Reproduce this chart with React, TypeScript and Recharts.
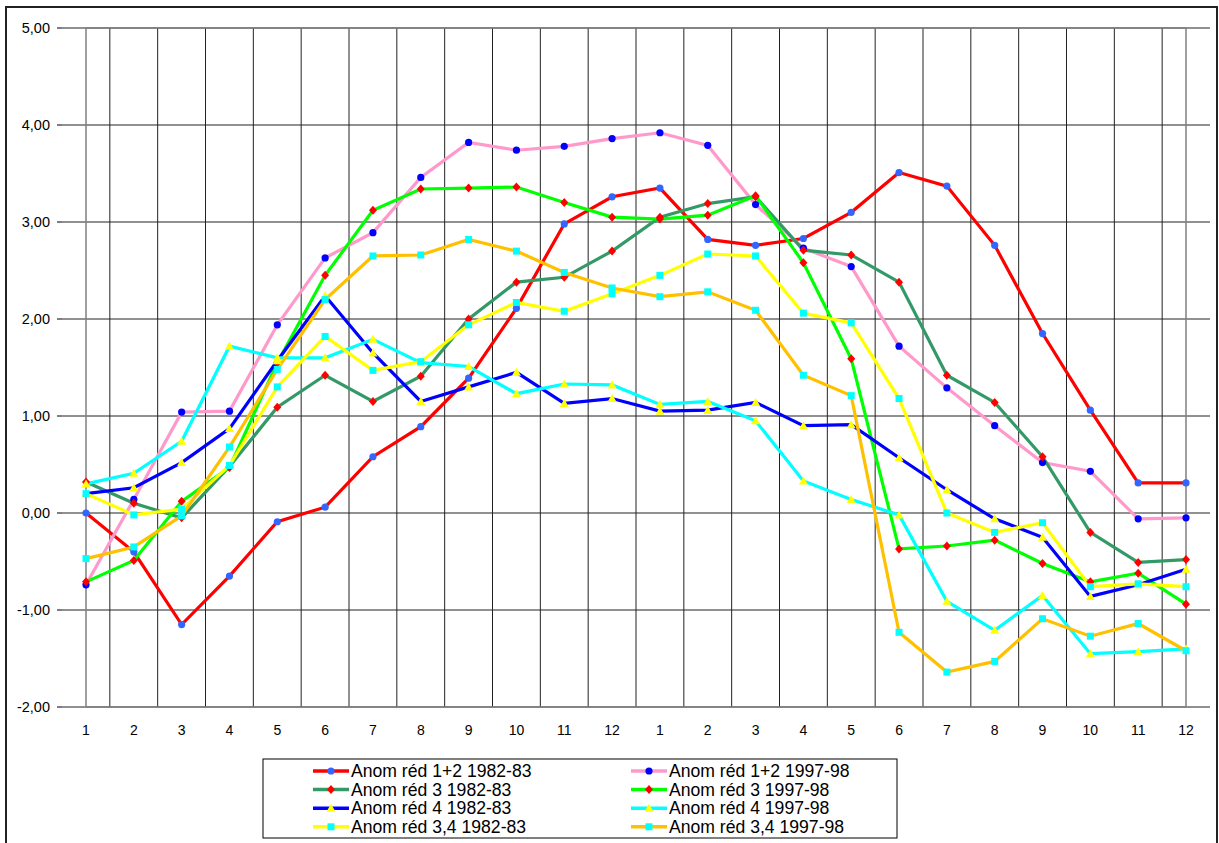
import React from "react";
import {
  LineChart,
  Line,
  XAxis,
  YAxis,
  CartesianGrid,
  ReferenceArea,
} from "recharts";

// month labels, two seasons side by side
const months = ["1", "2", "3", "4", "5", "6", "7", "8", "9", "10", "11", "12", "1", "2", "3", "4", "5", "6", "7", "8", "9", "10", "11", "12"];

const yTicks = [-2, -1, 0, 1, 2, 3, 4, 5];

const red12_8283 = [0.0, -0.4, -1.15, -0.65, -0.09, 0.06, 0.58, 0.89, 1.39, 2.11, 2.98, 3.26, 3.35, 2.82, 2.76, 2.83, 3.1, 3.51, 3.37, 2.76, 1.85, 1.06, 0.31, 0.31];
const red12_9798 = [-0.74, 0.14, 1.04, 1.05, 1.94, 2.63, 2.89, 3.46, 3.82, 3.74, 3.78, 3.86, 3.92, 3.79, 3.18, 2.73, 2.54, 1.72, 1.29, 0.9, 0.52, 0.43, -0.06, -0.05];
const red3_8283 = [0.32, 0.1, -0.05, 0.48, 1.09, 1.42, 1.15, 1.41, 2.0, 2.38, 2.43, 2.7, 3.05, 3.19, 3.26, 2.71, 2.66, 2.38, 1.42, 1.14, 0.58, -0.2, -0.51, -0.48];
const red3_9798 = [-0.71, -0.49, 0.12, 0.47, 1.55, 2.45, 3.12, 3.34, 3.35, 3.36, 3.2, 3.05, 3.03, 3.07, 3.27, 2.58, 1.59, -0.37, -0.34, -0.28, -0.52, -0.71, -0.62, -0.94];
const red4_8283 = [0.2, 0.26, 0.52, 0.87, 1.57, 2.24, 1.65, 1.15, 1.3, 1.45, 1.13, 1.18, 1.05, 1.06, 1.14, 0.9, 0.91, 0.57, 0.24, -0.06, -0.25, -0.86, -0.74, -0.58];
const red4_9798 = [0.3, 0.41, 0.74, 1.72, 1.6, 1.6, 1.79, 1.55, 1.51, 1.23, 1.33, 1.32, 1.12, 1.15, 0.95, 0.33, 0.14, -0.02, -0.91, -1.21, -0.85, -1.45, -1.43, -1.4];
const red34_8283 = [0.2, -0.02, 0.04, 0.49, 1.3, 1.82, 1.47, 1.56, 1.94, 2.17, 2.08, 2.26, 2.45, 2.67, 2.65, 2.06, 1.96, 1.18, 0.0, -0.2, -0.1, -0.76, -0.73, -0.76];
const red34_9798 = [-0.47, -0.35, -0.03, 0.68, 1.48, 2.2, 2.65, 2.66, 2.82, 2.7, 2.48, 2.32, 2.23, 2.28, 2.09, 1.42, 1.21, -1.23, -1.64, -1.53, -1.09, -1.27, -1.14, -1.42];

type Shape = "circle" | "diamond" | "triangle" | "square";

const series: { key: string; name: string; values: number[]; line: string; marker: string; shape: Shape }[] = [
  { key: "s1", name: "Anom réd 1+2 1982-83", values: red12_8283, line: "#FF0000", marker: "#3366FF", shape: "circle" },
  { key: "s2", name: "Anom réd 1+2 1997-98", values: red12_9798, line: "#FF99CC", marker: "#0000FF", shape: "circle" },
  { key: "s3", name: "Anom réd 3 1982-83", values: red3_8283, line: "#339966", marker: "#FF0000", shape: "diamond" },
  { key: "s4", name: "Anom réd 3 1997-98", values: red3_9798, line: "#00FF00", marker: "#FF0000", shape: "diamond" },
  { key: "s5", name: "Anom réd 4 1982-83", values: red4_8283, line: "#0000FF", marker: "#FFFF00", shape: "triangle" },
  { key: "s6", name: "Anom réd 4 1997-98", values: red4_9798, line: "#00FFFF", marker: "#FFFF00", shape: "triangle" },
  { key: "s7", name: "Anom réd 3,4 1982-83", values: red34_8283, line: "#FFFF00", marker: "#00FFFF", shape: "square" },
  { key: "s8", name: "Anom réd 3,4 1997-98", values: red34_9798, line: "#FFC000", marker: "#00FFFF", shape: "square" },
];

const data = months.map((m, i) => {
  const row: any = { idx: i };
  series.forEach((s) => (row[s.key] = s.values[i]));
  return row;
});

const FONT = "'Liberation Sans', Arial, sans-serif";

function Marker({ cx, cy, shape, color }: { cx: number; cy: number; shape: Shape; color: string }) {
  if (cx == null || cy == null) return null;
  if (shape === "circle") return <circle cx={cx} cy={cy} r={3.6} fill={color} />;
  if (shape === "diamond")
    return <polygon points={`${cx},${cy - 4.5} ${cx + 4},${cy} ${cx},${cy + 4.5} ${cx - 4},${cy}`} fill={color} />;
  if (shape === "triangle")
    return <polygon points={`${cx},${cy - 4.5} ${cx + 4.5},${cy + 3.5} ${cx - 4.5},${cy + 3.5}`} fill={color} />;
  return <rect x={cx - 3.5} y={cy - 3.5} width={7} height={7} fill={color} />;
}

const makeDot = (shape: Shape, color: string) => (p: any) =>
  <Marker key={`d-${p.index}`} cx={p.cx} cy={p.cy} shape={shape} color={color} />;

function LegendBox() {
  return (
    <svg
      width={636}
      height={81}
      style={{ position: "absolute", left: 262, top: 758 }}
    >
      <rect x={1} y={1} width={634} height={79} fill="#fff" stroke="#000" strokeWidth={1} />
      {series.map((s, i) => {
        const col = i % 2;
        const row = Math.floor(i / 2);
        const x0 = col === 0 ? 51 : 369;
        const y = 13 + row * 18.6;
        return (
          <g key={s.key}>
            <line x1={x0} x2={x0 + 36} y1={y} y2={y} stroke={s.line} strokeWidth={3.5} />
            <Marker cx={x0 + 18} cy={y} shape={s.shape} color={s.marker} />
            <text x={x0 + 38} y={y + 6} fontSize={17.6} fontFamily={FONT} fill="#000">
              {s.name}
            </text>
          </g>
        );
      })}
    </svg>
  );
}

export default function App() {
  return (
    <div style={{ position: "absolute", left: 0, top: 0, width: 1219, height: 843, background: "#fff", overflow: "hidden" }}>
      <div
        style={{
          position: "absolute",
          left: 5,
          top: 6,
          width: 1213,
          height: 837,
          boxSizing: "border-box",
          borderTop: "2px solid #222",
          borderLeft: "2px solid #222",
          borderRight: "2px solid #222",
        }}
      />
      <div style={{ position: "absolute", left: 0, top: 0 }}>
        <LineChart
          width={1219}
          height={843}
          data={data}
          margin={{ top: 28, right: 9, bottom: 106, left: 2 }}
        >
          <CartesianGrid
            stroke="#222"
            strokeWidth={1}
            verticalCoordinatesGenerator={({ offset }: any) =>
              Array.from({ length: 23 }, (_, i) => offset.left + ((i + 1) * offset.width) / 24)
            }
          />
          <ReferenceArea y1={-2} y2={5} fill="none" stroke="#808080" strokeWidth={1.5} ifOverflow="visible" />
          <XAxis
            dataKey="idx"
            type="category"
            interval={0}
            padding={{ left: 24, right: 24 }}
            height={30}
            axisLine={false}
            tickLine={false}
            tickSize={0}
            tickMargin={18}
            tickFormatter={(v: number) => months[v]}
            tick={{ fontSize: 14, fontFamily: FONT, fill: "#000" }}
          />
          <YAxis
            domain={[-2, 5]}
            ticks={yTicks}
            width={60}
            axisLine={false}
            tickLine={{ stroke: "#000" }}
            tickSize={5}
            tickMargin={7}
            tickFormatter={(v: number) => v.toFixed(2).replace(".", ",")}
            tick={{ fontSize: 14.5, fontFamily: FONT, fill: "#000" }}
          />
          {series.map((s) => (
            <Line
              key={s.key}
              type="linear"
              dataKey={s.key}
              name={s.name}
              stroke={s.line}
              strokeWidth={3.2}
              dot={makeDot(s.shape, s.marker)}
              activeDot={false}
              isAnimationActive={false}
            />
          ))}
        </LineChart>
      </div>
      <LegendBox />
    </div>
  );
}
